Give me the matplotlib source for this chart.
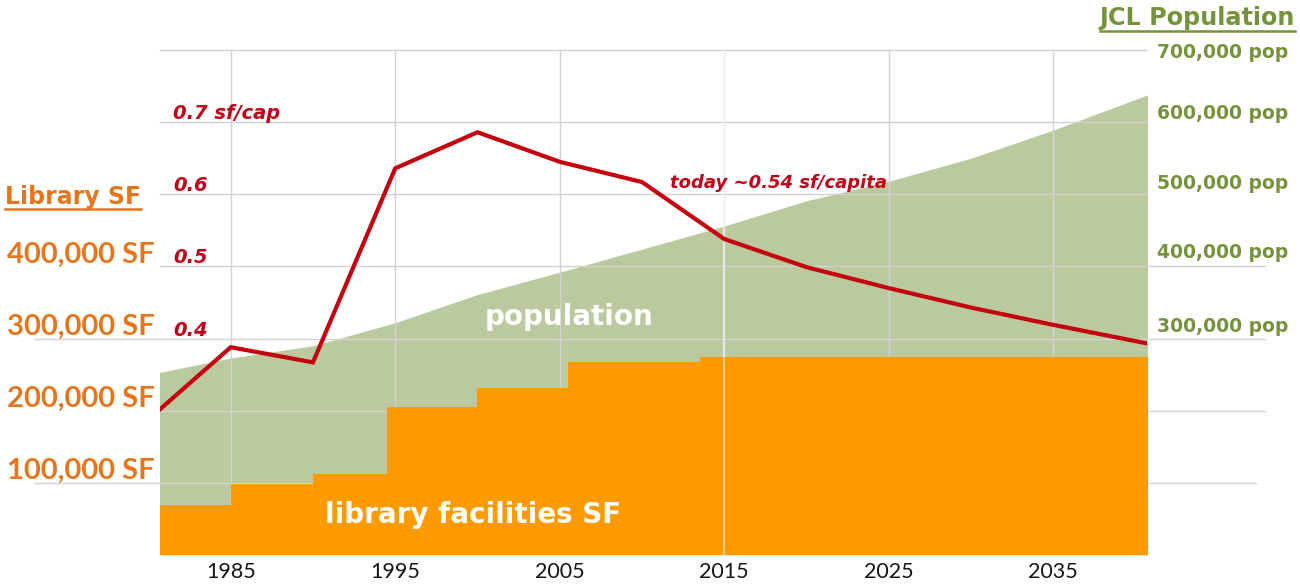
import matplotlib
matplotlib.use("Agg")
import matplotlib.pyplot as plt
import matplotlib.transforms as mtransforms
from matplotlib.lines import Line2D

# ---------------- data ----------------
pop_years = [1980, 1985, 1990, 1995, 2000, 2005, 2010, 2015, 2020, 2025, 2030, 2035, 2041]
population = [250000, 273000, 290000, 322000, 361000, 392000, 424000, 456000,
              491000, 518000, 550000, 589000, 640000]

sf_years = [1980, 1985, 1990, 1994.5, 2000, 2005.5, 2013.5, 2041]
library_sf = [69000, 98000, 112000, 205000, 232000, 267000, 274000, 274000]

ratio_years = [1980, 1985, 1990, 1995, 2000, 2005, 2010, 2015, 2020, 2025, 2030, 2035, 2041]
sf_per_capita = [0.288, 0.388, 0.367, 0.636, 0.686, 0.645, 0.617, 0.538,
                 0.499, 0.470, 0.443, 0.419, 0.392]

x_ticks = [1985, 1995, 2005, 2015, 2025, 2035]
sf_ticks = [100000, 200000, 300000, 400000]
sf_tick_labels = ["100,000 SF", "200,000 SF", "300,000 SF", "400,000 SF"]
pop_ticks = [300000, 400000, 500000, 600000, 700000]
pop_tick_labels = ["300,000 pop", "400,000 pop", "500,000 pop", "600,000 pop", "700,000 pop"]
ratio_ticks = [0.4, 0.5, 0.6, 0.7]
ratio_tick_labels = ["0.4", "0.5", "0.6", "0.7 sf/cap"]
grid_values = [100000, 200000, 300000, 400000, 500000, 600000, 700000]

# ---------------- style ----------------
FONT = "Lato"
WIDE = "DejaVu Sans"
ORANGE_FILL = "#FF9A00"
GREEN_FILL = "#BACA9E"
RED = "#C4000E"
ORANGE_TXT = "#E5761E"
OLIVE_TXT = "#76923C"
RED_TXT = "#BF0018"
GRID = "#D2D2D2"
POP_LABEL_DY = [12, 14, 11, 9, -2]   # pixel nudges of the right-hand labels

W, H = 1300, 588
fig = plt.figure(figsize=(W / 100, H / 100), dpi=100)
fig.patch.set_facecolor("white")
ax = fig.add_axes([160 / W, (H - 555) / H, 987 / W, 505 / H])
ax.set_xlim(1980.7, 2040.7)
ax.set_ylim(0, 700000)
for s in ax.spines.values():
    s.set_visible(False)

# fills
ax.fill_between(pop_years, 0, population, color=GREEN_FILL, lw=0, zorder=1)
ax.fill_between(sf_years, 0, library_sf, step="post", color=ORANGE_FILL, lw=0, zorder=2)

# grid lines (visible over green, hidden by orange)
ext = {100000: (-0.128, 1.11), 200000: (0.0, 1.12), 300000: (-0.128, 1.12),
       400000: (0.0, 1.12), 500000: (0.0, 1.0), 600000: (0.0, 1.0), 700000: (0.0, 1.0)}
for g in grid_values:
    xmin, xmax = ext[g]
    ax.axhline(g, xmin=xmin, xmax=xmax, color=GRID, lw=1, zorder=1.5, clip_on=False)
for xt in x_ticks:
    ax.axvline(xt, color=GRID, lw=1, zorder=1.5)
ax.axvline(2015, color="white", alpha=0.55, lw=1.6, zorder=2.5)

# x tick labels
ax.set_xticks(x_ticks)
ax.set_xticklabels([str(t) for t in x_ticks], fontsize=15.5, family=FONT, color="#151515")
ax.tick_params(axis="x", length=0, pad=5)
ax.set_yticks([])

# left (library SF) labels
tr_left = mtransforms.offset_copy(
    mtransforms.blended_transform_factory(ax.transAxes, ax.transData),
    fig=fig, x=0, y=4, units="dots")
for v, lab in zip(sf_ticks, sf_tick_labels):
    ax.text(-0.005, v, lab, transform=tr_left, ha="right", va="baseline",
            fontsize=21, fontweight="bold", family=FONT, color=ORANGE_TXT)

# right (population) labels
blend_r = mtransforms.blended_transform_factory(ax.transAxes, ax.transData)
for v, lab, dy in zip(pop_ticks, pop_tick_labels, POP_LABEL_DY):
    tr = mtransforms.offset_copy(blend_r, fig=fig, x=0, y=dy, units="dots")
    ax.text(1.0101, v, lab, transform=tr, ha="left", va="center",
            fontsize=13.5, fontweight="bold", family=WIDE, color=OLIVE_TXT, clip_on=False)

# in-chart labels
ax.text(0.414, 0.471, "population", transform=ax.transAxes, ha="center", va="center",
        fontsize=20, fontweight="bold", family=WIDE, color="white", zorder=3)
ax.text(0.317, 0.079, "library facilities SF", transform=ax.transAxes, ha="center",
        va="center", fontsize=20, fontweight="bold", family=WIDE, color="white", zorder=3)

# ratio axis
ax2 = ax.twinx()
ax2.set_ylim(0.1, 0.8)
ax2.set_xlim(1980.7, 2040.7)
for s in ax2.spines.values():
    s.set_visible(False)
ax2.set_yticks([])
ax2.plot(ratio_years, sf_per_capita, color=RED, lw=3.0, solid_joinstyle="miter", zorder=5)

tr_ratio = mtransforms.offset_copy(
    mtransforms.blended_transform_factory(ax2.transAxes, ax2.transData),
    fig=fig, x=0, y=3, units="dots")
for v, lab in zip(ratio_ticks, ratio_tick_labels):
    ax2.text(0.013, v, lab, transform=tr_ratio, ha="left", va="baseline",
             fontsize=14, fontweight="bold", style="italic", family=WIDE, color=RED_TXT)
ax2.text(0.517, 0.737, "today ~0.54 sf/capita", transform=ax2.transAxes, ha="left",
         va="center", fontsize=13, fontweight="bold", style="italic", family=WIDE,
         color=RED_TXT)

# axis titles (underlined)
t_left = fig.text(5 / W, 1 - 204 / H, "Library SF", ha="left", va="baseline",
                  fontsize=17, fontweight="bold", family=WIDE, color=ORANGE_TXT)
t_right = fig.text(1295 / W, 1 - 25 / H, "JCL Population", ha="right", va="baseline",
                   fontsize=17.2, fontweight="bold", family=WIDE, color=OLIVE_TXT)

fig.canvas.draw()
r = fig.canvas.get_renderer()
for t, uy, col in ((t_left, 209, ORANGE_TXT), (t_right, 31, OLIVE_TXT)):
    bb = t.get_window_extent(renderer=r)
    fig.add_artist(Line2D([bb.x0 / W, bb.x1 / W], [1 - uy / H, 1 - uy / H],
                          transform=fig.transFigure, color=col, lw=1.8))

fig.savefig("out.png", dpi=100, facecolor="white")
